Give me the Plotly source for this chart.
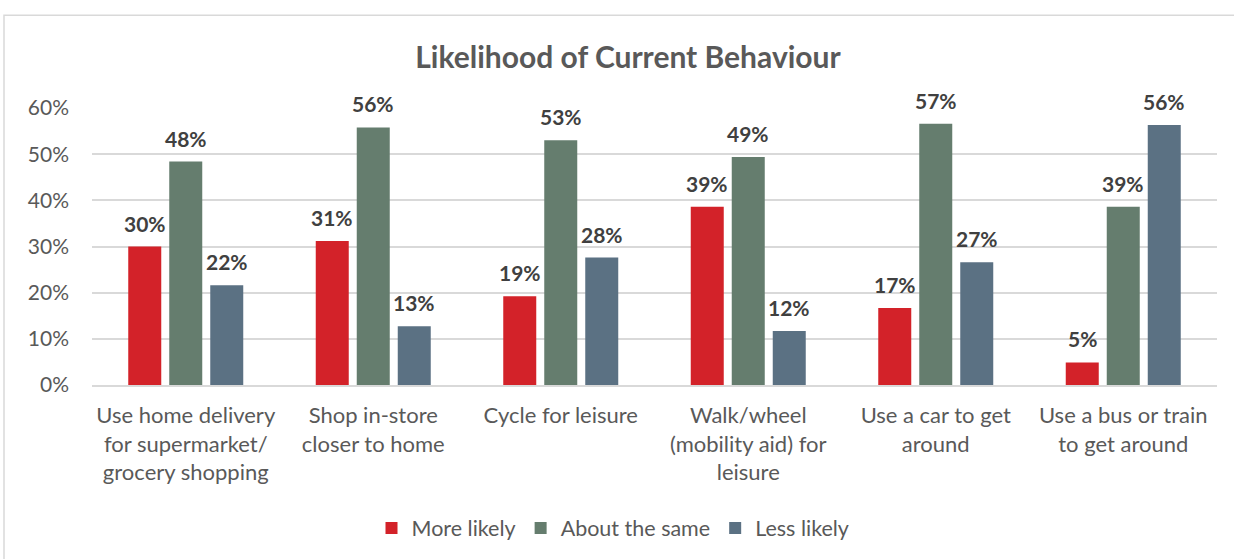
import plotly.graph_objects as go

categories = [
    "Use home delivery<br>for supermarket/<br>grocery shopping",
    "Shop in-store<br>closer to home",
    "Cycle for leisure",
    "Walk/wheel<br>(mobility aid) for<br>leisure",
    "Use a car to get<br>around",
    "Use a bus or train<br>to get around",
]
more_likely = [0.300, 0.312, 0.192, 0.386, 0.167, 0.049]
about_same = [0.484, 0.558, 0.530, 0.494, 0.566, 0.386]
less_likely = [0.216, 0.127, 0.276, 0.117, 0.266, 0.563]
series_names = ["More likely", "About the same", "Less likely"]
series_colors = ["#d32229", "#657d6e", "#5b7183"]
y_ticks = [0, 0.1, 0.2, 0.3, 0.4, 0.5, 0.6]

W, H = 1234, 559
ML, MR, MT, MB = 92, 17, 108, 173
PW, PH = W - ML - MR, H - MT - MB
BARGAP, GROUPGAP = 0.344, 0.195


def px_x(px):
    return (px - ML) / PW


def px_y(py):
    return (H - MB - py) / PH


FONT = "Lato, 'Open Sans', sans-serif"

fig = go.Figure()
series = [more_likely, about_same, less_likely]
for name, vals, col in zip(series_names, series, series_colors):
    fig.add_trace(go.Bar(
        x=categories, y=vals, name=name,
        marker=dict(color=col, line=dict(width=0)),
    ))

# value labels above each bar, offset to the bar's slot within its group
slot_px = PW / len(categories) * (1 - BARGAP) / len(series)
for i, vals in enumerate(series):
    shift = (i - (len(series) - 1) / 2) * slot_px
    for cat, v in zip(categories, vals):
        fig.add_annotation(
            x=cat, y=v, xref="x", yref="y", text=f"<b>{v:.0%}</b>",
            showarrow=False, xanchor="center", yanchor="bottom",
            xshift=shift, yshift=9,
            font=dict(family=FONT, size=21, color="#404040"),
        )

fig.update_layout(
    width=W, height=H,
    margin=dict(l=ML, r=MR, t=MT, b=MB),
    paper_bgcolor="white", plot_bgcolor="white",
    barmode="group", bargap=BARGAP, bargroupgap=GROUPGAP,
    title=dict(text="<b>Likelihood of Current Behaviour</b>",
               x=px_x(628), xref="paper", xanchor="center",
               y=1 - 57 / H, yref="container", yanchor="middle",
               font=dict(family=FONT, size=30, color="#595959")),
    font=dict(family=FONT, color="#595959"),
    showlegend=True,
    legend=dict(orientation="h", x=px_x(613), xanchor="center",
                y=px_y(528), yanchor="middle",
                font=dict(family=FONT, size=21.5, color="#595959"),
                traceorder="normal"),
)
fig.update_yaxes(range=[0, 0.6], tickvals=y_ticks, tickformat=".0%",
                 showgrid=True, gridcolor="#d9d9d9", gridwidth=1.5,
                 zeroline=False, showline=False, ticks="",
                 ticklabelstandoff=22,
                 tickfont=dict(family=FONT, size=21, color="#595959"))
fig.update_xaxes(showline=True, linecolor="#d9d9d9", linewidth=1.5, ticks="",
                 tickangle=0, ticklabelstandoff=10,
                 tickfont=dict(family=FONT, size=22, color="#595959"))

# outer chart border
fig.add_shape(type="rect", xref="paper", yref="paper",
              x0=px_x(4), x1=px_x(1240), y0=px_y(570), y1=px_y(15),
              line=dict(color="#d9d9d9", width=1.5), fillcolor="rgba(0,0,0,0)",
              layer="below")

fig.write_html("out.html")
